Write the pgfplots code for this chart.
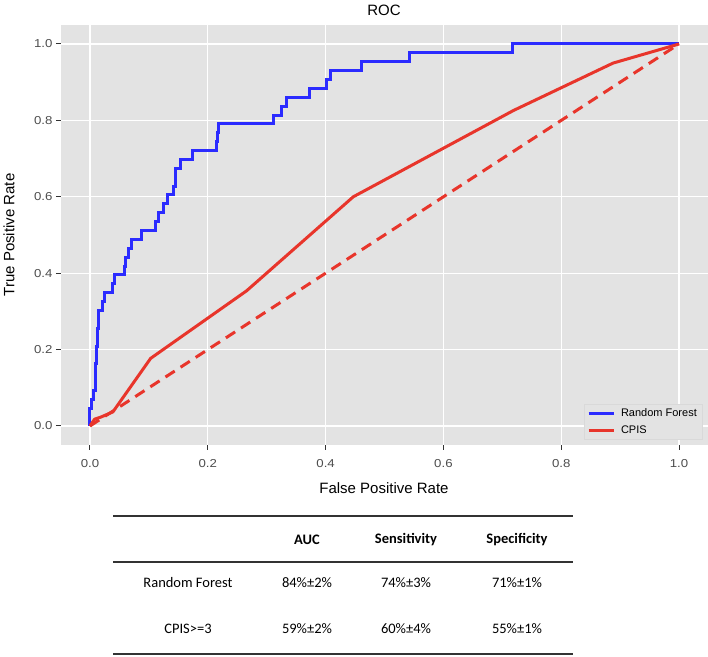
\documentclass[border=0pt]{standalone}
\usepackage{fontspec}
\setmainfont{Liberation Sans}
\newfontfamily\widesans[FakeStretch=1.15]{Liberation Sans}
\newfontfamily\calibri{Carlito}
\usepackage{pgfplots}
\pgfplotsset{compat=1.18}

\definecolor{panelgray}{HTML}{E3E3E3}
\definecolor{rfblue}{HTML}{2B2BFF}
\definecolor{cpisred}{HTML}{E8352B}
\definecolor{ticklab}{HTML}{4D4D4D}
\definecolor{tickcol}{HTML}{333333}

\begin{document}
\begin{tikzpicture}
\useasboundingbox (0,0) rectangle (708bp,657bp);
\begin{axis}[
  at={(60.5bp,211.9bp)}, anchor=south west,
  scale only axis, width=648bp, height=420.2bp,
  xmin=-0.05, xmax=1.05, ymin=-0.05, ymax=1.05,
  axis background/.style={fill=panelgray},
  axis line style={draw=none},
  xtick={0,0.2,0.4,0.6,0.8,1}, ytick={0,0.2,0.4,0.6,0.8,1},
  xticklabels={0.0,0.2,0.4,0.6,0.8,1.0},
  yticklabels={0.0,0.2,0.4,0.6,0.8,1.0},
  tick align=outside, tick pos=left,
  major tick length=4.5bp,
  tick style={color=tickcol, line width=1bp},
  grid=major, major grid style={white, line width=1.3bp},
  tick label style={font=\widesans\fontsize{11.5bp}{13bp}\selectfont, text=ticklab},
  xticklabel style={yshift=-6bp},
  legend style={at={(0.99,0.0145)}, anchor=south east, fill=panelgray,
    draw=black!15, font=\fontsize{11bp}{13bp}\selectfont,
    inner xsep=3bp, inner ysep=2bp, row sep=3.5bp, cells={anchor=west},
    /tikz/every odd column/.append style={column sep=4bp}},
  legend image code/.code={\draw[#1, line width=3bp] (0bp,0bp) -- (25bp,0bp);},
]

% random forest ROC (step curve)
\addplot[rfblue, line width=3bp, const plot] coordinates {
(0,0) (0,0.0465) (0.003,0.0698) (0.006,0.093) (0.009,0.1163)
(0.0095,0.1395) (0.010,0.1628) (0.011,0.2093) (0.012,0.2326)
(0.013,0.2558) (0.014,0.279) (0.015,0.3023) (0.022,0.3256)
(0.024,0.3488) (0.038,0.372) (0.041,0.3953) (0.059,0.4186)
(0.060,0.4419) (0.065,0.4651) (0.071,0.4884) (0.088,0.5116)
(0.112,0.5349) (0.116,0.5581) (0.124,0.5814) (0.132,0.6047)
(0.141,0.6279) (0.145,0.6512) (0.146,0.6744) (0.154,0.6977)
(0.174,0.7209) (0.215,0.7442) (0.216,0.7674) (0.218,0.7907)
(0.311,0.8140) (0.325,0.8372) (0.334,0.8605) (0.3735,0.8837)
(0.402,0.907) (0.4085,0.9302) (0.461,0.9535) (0.543,0.9767)
(0.7176,1.0) (1.0,1.0)
};
\addlegendentry{Random Forest}

% CPIS
\addplot[cpisred, line width=3bp, line join=round] coordinates {
(0,0) (0.008,0.018) (0.018,0.023) (0.039,0.037) (0.103,0.177)
(0.266,0.354) (0.447,0.600) (0.719,0.826) (0.888,0.950) (1,1)
};
\addlegendentry{CPIS}

\addplot[cpisred, line width=3bp, dash pattern=on 11bp off 7bp, forget plot]
  coordinates {(0,0) (1,1)};
\end{axis}

% titles
\node[font=\fontsize{15bp}{17bp}\selectfont] at (384bp,647bp) {ROC};
\node[font=\fontsize{15bp}{17bp}\selectfont] at (384bp,169bp) {False Positive Rate};
\node[font=\fontsize{15bp}{17bp}\selectfont, rotate=90] at (9bp,422bp) {True Positive Rate};

% summary table
\draw[line width=1.5bp, black!80] (113bp,141bp) -- (573bp,141bp);
\draw[line width=1.3bp, black!80] (113bp,95bp) -- (573bp,95bp);
\draw[line width=1.8bp, black!80] (113bp,3bp) -- (573bp,3bp);
\begin{scope}[every node/.style={font=\calibri\fontsize{14.5bp}{17bp}\selectfont}]
\node[font=\calibri\bfseries\fontsize{14.5bp}{17bp}\selectfont] at (307bp,117bp) {AUC};
\node[font=\calibri\bfseries\fontsize{14.5bp}{17bp}\selectfont] at (406bp,117bp) {Sensitivity};
\node[font=\calibri\bfseries\fontsize{14.5bp}{17bp}\selectfont] at (517bp,117bp) {Specificity};
\node at (188bp,74bp) {Random Forest};
\node at (307bp,74bp) {84\%±2\%};
\node at (406bp,74bp) {74\%±3\%};
\node at (517bp,74bp) {71\%±1\%};
\node at (188bp,28bp) {CPIS>=3};
\node at (307bp,28bp) {59\%±2\%};
\node at (406bp,28bp) {60\%±4\%};
\node at (517bp,28bp) {55\%±1\%};
\end{scope}
\end{tikzpicture}
\end{document}
